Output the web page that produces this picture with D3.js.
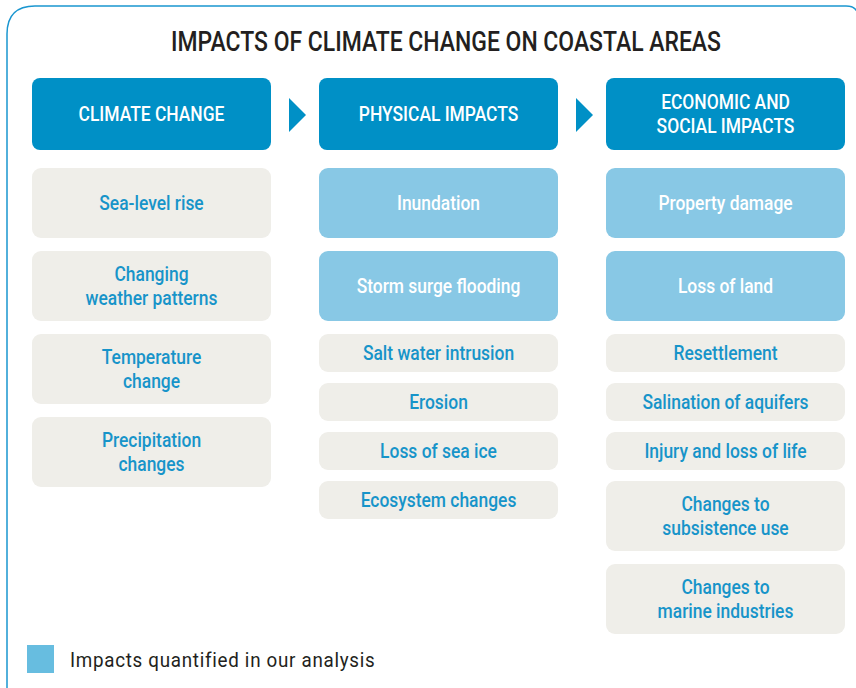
<!DOCTYPE html>
<html>
<head>
<meta charset="utf-8">
<script src="https://cdn.jsdelivr.net/npm/d3@7"></script>
<style>
  body { margin: 0; background: #fff; }
  svg text { font-family: "Roboto", "Noto Sans", sans-serif; }
</style>
</head>
<body>
<div id="chart"></div>
<script>
// Diagram content
var title = "IMPACTS OF CLIMATE CHANGE ON COASTAL AREAS";
var columns = ["CLIMATE CHANGE", "PHYSICAL IMPACTS", "ECONOMIC AND\nSOCIAL IMPACTS"];
var climateItems = ["Sea-level rise", "Changing\nweather patterns", "Temperature\nchange", "Precipitation\nchanges"];
var physicalItems = ["Inundation", "Storm surge flooding", "Salt water intrusion", "Erosion", "Loss of sea ice", "Ecosystem changes"];
var economicItems = ["Property damage", "Loss of land", "Resettlement", "Salination of aquifers", "Injury and loss of life", "Changes to\nsubsistence use", "Changes to\nmarine industries"];
// items quantified in the analysis (light blue)
var quantified = ["Inundation", "Storm surge flooding", "Property damage", "Loss of land"];
var legendLabel = "Impacts quantified in our analysis";

var W = 856, H = 688;
var colDark = "#0090c6", colLight = "#88c8e5", colGray = "#efeee9", colText = "#1794c9";

var svg = d3.select("#chart").append("svg")
  .attr("width", W)
  .attr("height", H);

// frame (only top and left edges are visible)
svg.append("path")
  .attr("d", "M7,720 L7,34 Q7,6 35,6 L846,6 Q856,6 858,14")
  .attr("fill", "none")
  .attr("stroke", "#1a96d0")
  .attr("stroke-width", 1.5);

// condensed text: squeeze horizontally around the anchor
function ctext(sel, str, cx, cy, sx) {
  return sel.append("text")
    .attr("transform", "translate(" + cx + "," + cy + ") scale(" + sx + ",1)")
    .attr("dy", "0.35em")
    .attr("text-anchor", "middle")
    .text(str);
}

ctext(svg, title, 446, 42, 0.85)
  .style("font-size", "27px")
  .style("font-weight", 500)
  .style("fill", "#231f20");

var x = d3.scaleBand()
  .domain(columns)
  .range([32, 845])
  .paddingInner(48 / 287)
  .paddingOuter(0);

function multiline(sel, label, cx, cy, lh) {
  var lines = label.split("\n");
  lines.forEach(function(l, i) {
    ctext(sel, l, cx, cy + (i - (lines.length - 1) / 2) * lh, 0.83);
  });
}

// headers
columns.forEach(function(c, i) {
  var g = svg.append("g");
  g.append("rect")
    .attr("x", x(c)).attr("y", 78)
    .attr("width", x.bandwidth()).attr("height", 72)
    .attr("rx", 8)
    .attr("fill", colDark);
  var t = g.append("g")
    .style("fill", "#fff")
    .style("font-size", "21px")
    .style("font-weight", 500);
  multiline(t, c, x(c) + x.bandwidth() / 2, 114, 24);
  // arrow to next column
  if (i < columns.length - 1) {
    var ax = x(c) + x.bandwidth() + 18;
    svg.append("path")
      .attr("d", "M" + ax + ",98 L" + (ax + 17) + ",115 L" + ax + ",132 Z")
      .attr("fill", colDark);
  }
});

// items
var itemLists = [climateItems, physicalItems, economicItems];
itemLists.forEach(function(items, ci) {
  var c = columns[ci];
  var y = 168;
  items.forEach(function(label) {
    var q = quantified.indexOf(label) >= 0;
    var tall = ci === 0 || q || label.indexOf("\n") >= 0;
    var h = tall ? 70 : 38;
    var gap = tall ? 13 : 11;
    var g = svg.append("g");
    g.append("rect")
      .attr("x", x(c)).attr("y", y)
      .attr("width", x.bandwidth()).attr("height", h)
      .attr("rx", 9)
      .attr("fill", q ? colLight : colGray);
    var t = g.append("g")
      .style("fill", q ? "#fff" : colText)
      .style("font-size", "21px")
      .style("font-weight", 500);
    multiline(t, label, x(c) + x.bandwidth() / 2, y + h / 2 - 0.5, 24);
    y += h + gap;
  });
});

// legend
svg.append("rect")
  .attr("x", 27).attr("y", 645)
  .attr("width", 27).attr("height", 28)
  .attr("fill", "#67bde0");
svg.append("text")
  .attr("transform", "translate(70,660) scale(0.895,1)")
  .attr("dy", "0.35em")
  .style("font-size", "21px")
  .style("letter-spacing", "0.8px")
  .style("fill", "#231f20")
  .text(legendLabel);
</script>
</body>
</html>
